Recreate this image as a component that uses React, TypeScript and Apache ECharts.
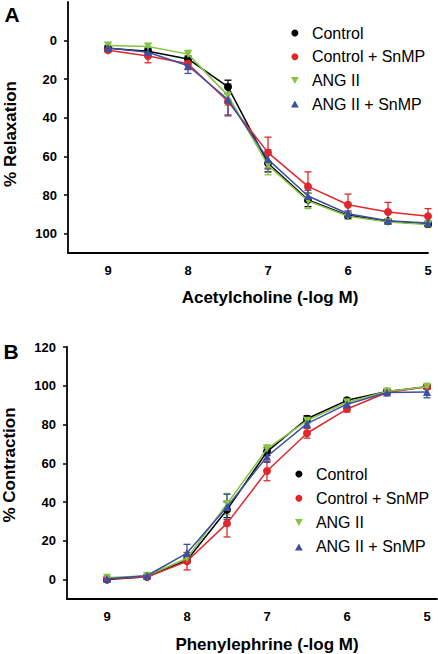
import React, { useEffect, useRef } from "react";
import * as echarts from "echarts";

// ---------- data ----------
const doses = [9, 8.5, 8, 7.5, 7, 6.5, 6, 5.5, 5];
const xTickLabels = [9, 8, 7, 6, 5];
const seriesNames = ["Control", "Control + SnMP", "ANG II", "ANG II + SnMP"];
const relaxTicks = [0, 20, 40, 60, 80, 100];
const contractTicks = [0, 20, 40, 60, 80, 100, 120];

// Panel A: % Relaxation (Acetylcholine)
const relaxControl = [4, 5.5, 9.5, 24, 63.5, 82.5, 90.5, 93.5, 95];
const relaxControlSem = [1.5, 1.5, 1.5, 3.5, 4.5, 3.5, 1.5, 1, 1];
const relaxControlSnMP = [5, 8, 12, 31.5, 58, 75.5, 85, 88.8, 91];
const relaxControlSnMPSem = [1, 3.5, 3, 7.5, 8, 7.5, 5.5, 5, 4];
const relaxAng = [2.5, 3, 7, 28.5, 64.5, 83, 91, 94, 95.3];
const relaxAngSem = [1.5, 1.5, 2, 5, 5, 4, 1.5, 1, 1.5];
const relaxAngSnMP = [3.8, 6, 13, 30.5, 61.5, 80.5, 89.7, 93.3, 94.5];
const relaxAngSnMPSem = [1, 2, 4, 8, 5, 3, 1.5, 1, 1];

// Panel B: % Contraction (Phenylephrine)
const contrControl = [0, 1.5, 10, 36, 66, 83, 92.5, 97, 99.5];
const contrControlSem = [0.5, 0.5, 1.5, 4, 2, 1.5, 1, 1, 1];
const contrControlSnMP = [0.5, 1.3, 9.5, 29, 56, 75.5, 88, 96.5, 99.5];
const contrControlSnMPSem = [0.5, 0.5, 4.5, 7, 5, 2.5, 1.5, 1, 1];
const contrAng = [1, 2, 11, 39, 67.5, 82, 91.5, 97, 99.5];
const contrAngSem = [0.5, 0.5, 2, 5.5, 2, 1.5, 1, 1, 1];
const contrAngSnMP = [0.5, 2, 13.7, 37.5, 63.5, 80.5, 90.5, 96.5, 96.8];
const contrAngSnMPSem = [0.5, 0.5, 4.5, 6.5, 3, 2, 1.5, 1, 3];

// ---------- styles ----------
const FONT = "'Liberation Sans', Arial, Helvetica, sans-serif";
const colors = ["#000000", "#e0282c", "#86c441", "#3c4fa3"];
const symbols = ["circle", "circle", "triangle", "triangle"];
const symbolSizes = [8, 8, 8, 8];
const rotations = [0, 0, 180, 0];
const legendIcons = ["circle", "circle", "path://M0,0L10,0L5,9Z", "path://M5,0L10,9L0,9Z"];

const relaxMeans = [relaxControl, relaxControlSnMP, relaxAng, relaxAngSnMP];
const relaxSems = [relaxControlSem, relaxControlSnMPSem, relaxAngSem, relaxAngSnMPSem];
const contrMeans = [contrControl, contrControlSnMP, contrAng, contrAngSnMP];
const contrSems = [contrControlSem, contrControlSnMPSem, contrAngSem, contrAngSnMPSem];

function errorBarSeries(name: string, color: string, means: number[], sems: number[], axis: number) {
  return {
    type: "custom",
    name,
    xAxisIndex: axis,
    yAxisIndex: axis,
    z: 2,
    silent: true,
    encode: { x: 0, y: 1 },
    data: doses.map((d, i) => [d, means[i], sems[i]]),
    renderItem: (params: any, api: any) => {
      const x = api.value(0);
      const m = api.value(1);
      const s = api.value(2);
      const top = api.coord([x, m + s]);
      const bot = api.coord([x, m - s]);
      const hw = 3.5;
      const st = { stroke: color, lineWidth: 1.3 };
      return {
        type: "group",
        children: [
          { type: "line", shape: { x1: top[0], y1: top[1], x2: bot[0], y2: bot[1] }, style: st },
          { type: "line", shape: { x1: top[0] - hw, y1: top[1], x2: top[0] + hw, y2: top[1] }, style: st },
          { type: "line", shape: { x1: bot[0] - hw, y1: bot[1], x2: bot[0] + hw, y2: bot[1] }, style: st },
        ],
      };
    },
  };
}

function lineSeries(i: number, means: number[], axis: number) {
  return {
    type: "line",
    name: seriesNames[i],
    xAxisIndex: axis,
    yAxisIndex: axis,
    z: 3 + i,
    data: doses.map((d, k) => [d, means[k]]),
    symbol: symbols[i],
    symbolRotate: rotations[i],
    symbolSize: symbolSizes[i],
    showAllSymbol: true,
    lineStyle: { color: colors[i], width: 1.5 },
    itemStyle: { color: colors[i] },
  };
}

const axisLabelStyle = { color: "#000", fontFamily: FONT, fontWeight: "bold" as const, fontSize: 13 };

function xAxis(gridIndex: number, min: number) {
  return {
    type: "value",
    gridIndex,
    min,
    max: 9.5,
    inverse: true,
    splitLine: { show: false },
    axisLine: { show: true, onZero: false, lineStyle: { color: "#000", width: 1.8 } },
    axisTick: { show: false },
    axisLabel: { ...axisLabelStyle, margin: 11, customValues: xTickLabels, formatter: (v: number) => String(v) },
  };
}

function yAxis(gridIndex: number, min: number, max: number, inverse: boolean, ticks: number[]) {
  return {
    type: "value",
    gridIndex,
    min,
    max,
    inverse,
    splitLine: { show: false },
    axisLine: { show: true, onZero: false, lineStyle: { color: "#000", width: 1.8 } },
    axisTick: { show: true, length: 4, customValues: ticks, lineStyle: { color: "#000", width: 1.5 } },
    axisLabel: { ...axisLabelStyle, margin: 11, customValues: ticks, formatter: (v: number) => String(v) },
  };
}

function legend(left: number, top: number, gap: number) {
  return {
    orient: "vertical",
    left,
    top,
    padding: 0,
    itemGap: gap,
    itemWidth: 24,
    itemHeight: 7,
    selectedMode: false,
    textStyle: { color: "#000", fontFamily: FONT, fontSize: 16, lineHeight: 16 },
    data: seriesNames.map((n, i) => ({ name: n, icon: legendIcons[i] })),
  };
}

function textEl(text: string, x: number, y: number, size: number, rotation = 0) {
  return {
    type: "text",
    x,
    y,
    rotation,
    style: {
      text,
      fill: "#000",
      font: `bold ${size}px ${FONT}`,
      textAlign: "center",
      textVerticalAlign: "middle",
    },
  };
}

export default function App() {
  const ref = useRef<HTMLDivElement>(null);
  useEffect(() => {
    if (!ref.current) return;
    const chart = echarts.init(ref.current, undefined, { renderer: "svg" });
    const series: any[] = [];
    for (let i = 0; i < 4; i++) series.push(lineSeries(i, relaxMeans[i], 0));
    for (let i = 0; i < 4; i++) series.push(lineSeries(i, contrMeans[i], 1));
    for (let i = 0; i < 4; i++) series.push(errorBarSeries(seriesNames[i], colors[i], relaxMeans[i], relaxSems[i], 0));
    for (let i = 0; i < 4; i++) series.push(errorBarSeries(seriesNames[i], colors[i], contrMeans[i], contrSems[i], 1));
    chart.setOption({
      animation: false,
      backgroundColor: "#fff",
      grid: [
        { left: 68, top: 2, width: 360, height: 251 },
        { left: 67, top: 347, width: 370, height: 252 },
      ],
      xAxis: [xAxis(0, 5), xAxis(1, 4.875)],
      yAxis: [yAxis(0, -20, 110, true, relaxTicks), yAxis(1, -10, 120, false, contractTicks)],
      legend: [legend(291, 25, 7.7), legend(295, 466, 8.3)],
      graphic: [
        textEl("A", 12, 14, 21),
        textEl("B", 11, 351, 21),
        textEl("% Relaxation", 10, 134, 17, Math.PI / 2),
        textEl("% Contraction", 9, 465, 17, Math.PI / 2),
        textEl("Acetylcholine (-log M)", 270, 297, 17),
        textEl("Phenylephrine (-log M)", 267, 644, 17),
      ],
      series,
    });
    return () => chart.dispose();
  }, []);
  return (
    <div
      ref={ref}
      style={{ position: "absolute", left: 0, top: 0, width: 438, height: 654, background: "#fff" }}
    />
  );
}
